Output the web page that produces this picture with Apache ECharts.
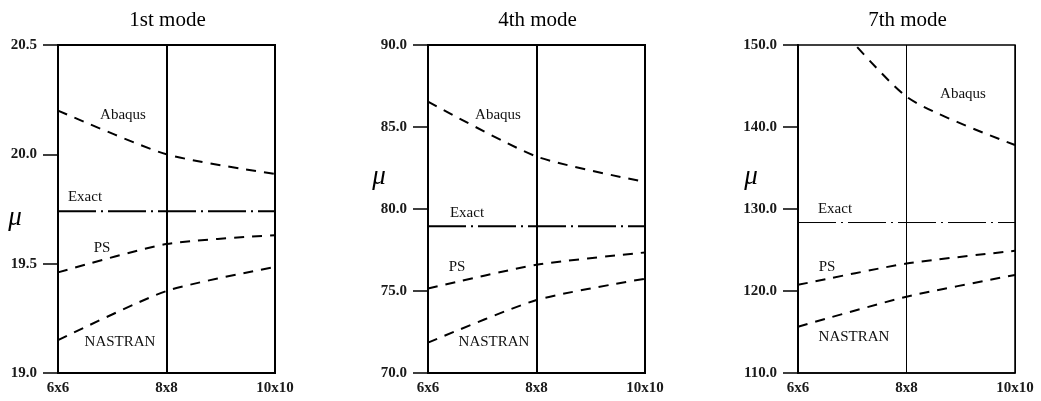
<!DOCTYPE html>
<html>
<head>
<meta charset="utf-8">
<script src="https://cdn.jsdelivr.net/npm/echarts@6/dist/echarts.min.js"></script>
<style>
  html, body { margin: 0; padding: 0; background: #fff; }
  #main { width: 1041px; height: 401px; }
</style>
</head>
<body>
<div id="main"></div>
<script>
// mesh sizes along x
const categories = ['6x6', '8x8', '10x10'];

// 1st mode
const mode1Ticks = [19.0, 19.5, 20.0, 20.5];
const mode1Abaqus = [20.20, 20.00, 19.91];
const mode1Exact = [19.74, 19.74, 19.74];
const mode1PS = [19.46, 19.59, 19.63];
const mode1Nastran = [19.15, 19.375, 19.485];

// 4th mode
const mode4Ticks = [70.0, 75.0, 80.0, 85.0, 90.0];
const mode4Abaqus = [86.55, 83.2, 81.65];
const mode4Exact = [78.95, 78.95, 78.95];
const mode4PS = [75.15, 76.6, 77.35];
const mode4Nastran = [71.85, 74.45, 75.75];

// 7th mode (Abaqus starts above the top of the axis)
const mode7Ticks = [110.0, 120.0, 130.0, 140.0, 150.0];
const mode7Abaqus = [158.0, 143.7, 137.8];
const mode7Exact = [128.35, 128.35, 128.35];
const mode7PS = [120.75, 123.35, 124.9];
const mode7Nastran = [115.65, 119.3, 121.95];

const panels = [
  { title: '1st mode', ticks: mode1Ticks, abaqus: mode1Abaqus, exact: mode1Exact, ps: mode1PS, nastran: mode1Nastran,
    left: 58, lw: 2, mid: 2, mu: [15, 218],
    lab: { Abaqus: [123, 115], Exact: [85, 197], PS: [102, 248], NASTRAN: [120, 342] } },
  { title: '4th mode', ticks: mode4Ticks, abaqus: mode4Abaqus, exact: mode4Exact, ps: mode4PS, nastran: mode4Nastran,
    left: 428, lw: 2, mid: 2, mu: [379, 177],
    lab: { Abaqus: [498, 115], Exact: [467, 213], PS: [457, 267], NASTRAN: [494, 342] } },
  { title: '7th mode', ticks: mode7Ticks, abaqus: mode7Abaqus, exact: mode7Exact, ps: mode7PS, nastran: mode7Nastran,
    left: 798, lw: 1.5, mid: 1, mu: [751, 177],
    lab: { Abaqus: [963, 94], Exact: [835, 209], PS: [827, 267], NASTRAN: [854, 337] } }
];

const serif = '"Liberation Serif", "DejaVu Serif", serif';
const W = 217, TOP = 45, H = 328;

const chart = echarts.init(document.getElementById('main'));

const grid = [], xAxis = [], yAxis = [], series = [], title = [], graphic = [];

panels.forEach((p, i) => {
  grid.push({
    left: p.left, top: TOP, width: W, height: H,
    show: true, borderColor: '#000', borderWidth: p.lw, backgroundColor: 'transparent'
  });
  title.push({
    text: p.title, left: p.left + W / 2 - 4, top: 5, textAlign: 'center',
    textStyle: { fontFamily: serif, fontSize: 21, fontWeight: 'normal', color: '#000' }
  });
  xAxis.push({
    type: 'category', gridIndex: i, data: categories, boundaryGap: false,
    axisLine: { show: true, lineStyle: { color: '#000', width: p.lw } },
    axisTick: { show: false },
    axisLabel: { fontFamily: serif, fontSize: 15, fontWeight: 'bold', color: '#1a1a1a', margin: 8, showMinLabel: true, showMaxLabel: true },
    splitLine: { show: true, interval: 0, lineStyle: { color: '#000', width: p.mid, type: 'solid' } }
  });
  const t = p.ticks;
  yAxis.push({
    type: 'value', gridIndex: i, min: t[0], max: t[t.length - 1], interval: t[1] - t[0],
    axisLine: { show: true, lineStyle: { color: '#000', width: 2 } },
    axisTick: { show: true, inside: false, length: 15, lineStyle: { color: '#000', width: 1.5 } },
    axisLabel: { fontFamily: serif, fontSize: 15, fontWeight: 'bold', color: '#1a1a1a', margin: 21,
      formatter: v => v.toFixed(1) },
    splitLine: { show: false }
  });
  const dashed = (name, data) => ({
    name, type: 'line', xAxisIndex: i, yAxisIndex: i, data, smooth: 0.22, symbol: 'none', clip: true,
    lineStyle: { color: '#000', width: 2, type: [10, 8] }, z: 5
  });
  series.push(dashed('Abaqus', p.abaqus));
  series.push(dashed('PS', p.ps));
  series.push(dashed('NASTRAN', p.nastran));
  series.push({
    name: 'Exact', type: 'line', xAxisIndex: i, yAxisIndex: i, data: p.exact, symbol: 'none',
    lineStyle: { color: '#000', width: p.mid, type: [38, 5, 2, 5] }, z: 5
  });
  graphic.push({
    type: 'text', x: p.mu[0], y: p.mu[1],
    style: { text: 'μ', font: 'italic 27px ' + serif, fill: '#000', align: 'center', verticalAlign: 'middle' }
  });
  Object.keys(p.lab).forEach(k => {
    graphic.push({
      type: 'text', x: p.lab[k][0], y: p.lab[k][1],
      style: { text: k, font: '15px ' + serif, fill: '#111', align: 'center', verticalAlign: 'middle' }
    });
  });
});

chart.setOption({
  animation: false,
  backgroundColor: '#fff',
  title, grid, xAxis, yAxis, series, graphic
});
</script>
</body>
</html>
